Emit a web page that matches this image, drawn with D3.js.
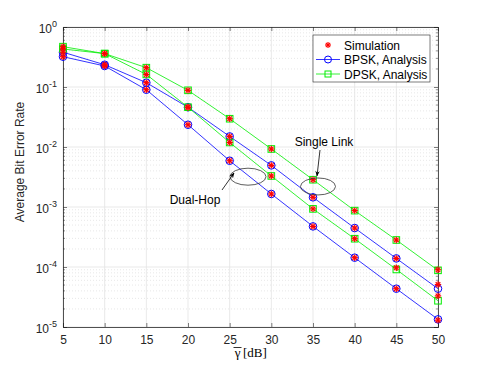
<!DOCTYPE html>
<html>
<head>
<meta charset="utf-8">
<script src="https://cdn.jsdelivr.net/npm/d3@7"></script>
<style>
  body { margin: 0; background: #fff; }
  svg text { font-family: "Liberation Sans", Arial, sans-serif; }
</style>
</head>
<body>
<div id="chart"></div>
<script>
// SNR points (dB)
var snr = [5, 10, 15, 20, 25, 30, 35, 40, 45, 50];

// analysis curves
var bpskSingle = [0.38, 0.235, 0.118, 0.046, 0.0150, 0.00494, 0.00145, 0.000446, 0.000139, 4.35e-5];
var bpskDual   = [0.32, 0.224, 0.090, 0.0235, 0.0059, 0.00165, 0.000475, 0.000143, 4.35e-5, 1.34e-5];
var dpskSingle = [0.47, 0.36, 0.21, 0.088, 0.0296, 0.00927, 0.00285, 0.00087, 0.000282, 8.8e-5];
var dpskDual   = [0.43, 0.36, 0.162, 0.046, 0.0119, 0.00329, 0.00093, 0.000296, 9.1e-5, 2.74e-5];

// simulation points
var simBpskSingle = [0.38, 0.235, 0.118, 0.046, 0.0150, 0.00494, 0.00145, 0.000446, 0.000139, 5.1e-5];
var simBpskDual   = [0.32, 0.224, 0.090, 0.0235, 0.0059, 0.00165, 0.000475, 0.000143, 4.35e-5, 1.3e-5];
var simDpskSingle = [0.47, 0.36, 0.21, 0.088, 0.0296, 0.00927, 0.00285, 0.00087, 0.000282, 9.0e-5];
var simDpskDual   = [0.43, 0.36, 0.162, 0.046, 0.0119, 0.00329, 0.00093, 0.000296, 9.7e-5, 3.3e-5];

var xTicks = [5, 10, 15, 20, 25, 30, 35, 40, 45, 50];
var yExps  = [0, -1, -2, -3, -4, -5];
var legendLabels = ['Simulation', 'BPSK, Analysis', 'DPSK, Analysis'];

var W = 485, H = 367;
var m = { left: 63, top: 27, right: 47, bottom: 40 };
var pw = W - m.left - m.right, ph = H - m.top - m.bottom;

var svg = d3.select('#chart').append('svg')
    .attr('width', W).attr('height', H);

var x = d3.scaleLinear().domain([5, 50]).range([m.left, m.left + pw]);
var y = d3.scaleLog().domain([1e-5, 1]).range([m.top + ph, m.top]);

var g = svg.append('g');

// minor y grid
var minor = [];
for (var e = -5; e < 0; e++) {
    for (var k = 2; k <= 9; k++) minor.push(k * Math.pow(10, e));
}
g.selectAll('line.ymin').data(minor).enter().append('line')
    .attr('x1', m.left).attr('x2', m.left + pw)
    .attr('y1', function (d) { return y(d); }).attr('y2', function (d) { return y(d); })
    .attr('stroke', '#d6d6d6').attr('stroke-width', 0.6).attr('stroke-dasharray', '1,2');

// major grid
g.selectAll('line.ymaj').data(yExps).enter().append('line')
    .attr('x1', m.left).attr('x2', m.left + pw)
    .attr('y1', function (d) { return y(Math.pow(10, d)); }).attr('y2', function (d) { return y(Math.pow(10, d)); })
    .attr('stroke', '#e3e3e3').attr('stroke-width', 0.8);
g.selectAll('line.xmaj').data(xTicks).enter().append('line')
    .attr('x1', function (d) { return x(d); }).attr('x2', function (d) { return x(d); })
    .attr('y1', m.top).attr('y2', m.top + ph)
    .attr('stroke', '#e3e3e3').attr('stroke-width', 0.8);

// axes with inward ticks
var axCol = '#262626';
var axB = d3.axisBottom(x).tickValues(xTicks).tickSize(-4).tickPadding(8);
var axT = d3.axisTop(x).tickValues(xTicks).tickSize(-4).tickFormat('');
var axL = d3.axisLeft(y).tickValues(yExps.map(function (d) { return Math.pow(10, d); })).tickSize(-4).tickFormat('');
var axR = d3.axisRight(y).tickValues(yExps.map(function (d) { return Math.pow(10, d); })).tickSize(-4).tickFormat('');

function styleAxis(sel) {
    sel.select('.domain').attr('stroke', axCol).attr('stroke-width', 0.8);
    sel.selectAll('.tick line').attr('stroke', axCol).attr('stroke-width', 0.6);
    sel.selectAll('.tick text').attr('fill', axCol).style('font-size', '12px')
        .style('font-family', '"Liberation Sans", Arial, sans-serif');
}
svg.append('g').attr('transform', 'translate(0,' + (m.top + ph) + ')').call(axB).call(styleAxis);
svg.append('g').attr('transform', 'translate(0,' + m.top + ')').call(axT).call(styleAxis);
svg.append('g').attr('transform', 'translate(' + m.left + ',0)').call(axL).call(styleAxis);
svg.append('g').attr('transform', 'translate(' + (m.left + pw) + ',0)').call(axR).call(styleAxis);

// minor y ticks
[m.left, m.left + pw].forEach(function (x0, i) {
    var dir = i === 0 ? 1 : -1;
    svg.selectAll(null).data(minor).enter().append('line')
        .attr('x1', x0).attr('x2', x0 + dir * 2)
        .attr('y1', function (d) { return y(d); }).attr('y2', function (d) { return y(d); })
        .attr('stroke', axCol).attr('stroke-width', 0.5);
});

// y tick labels 10^n
var yl = svg.selectAll('text.ylab').data(yExps).enter().append('text')
    .attr('x', m.left - 6).attr('y', function (d) { return y(Math.pow(10, d)) + 6; })
    .attr('text-anchor', 'end').attr('fill', axCol).style('font-size', '12px');
yl.append('tspan').text('10');
yl.append('tspan').attr('dy', -6).style('font-size', '9px').text(function (d) { return d; });

// axis labels
svg.append('text')
    .attr('transform', 'translate(24,' + (m.top + ph / 2 - 15) + ') rotate(-90)')
    .attr('text-anchor', 'middle').attr('fill', axCol).style('font-size', '12px')
    .text('Average Bit Error Rate');

// x label: gamma with bar, then [dB]
var serif = '"Liberation Serif", "DejaVu Serif", serif';
var gx = 237.5, gy = 357;
svg.append('text').attr('x', gx).attr('y', gy).attr('text-anchor', 'middle')
    .attr('fill', '#000').style('font-family', serif).style('font-size', '13px')
    .text('γ');
svg.append('text').attr('x', gx + 5.5).attr('y', gy).attr('text-anchor', 'start')
    .attr('fill', '#000').style('font-family', serif).style('font-size', '13px')
    .text('[dB]');
svg.append('line')
    .attr('x1', gx - 4).attr('x2', gx + 4)
    .attr('y1', gy - 9.5).attr('y2', gy - 9.5).attr('stroke', '#000').attr('stroke-width', 0.8);

// curves
var line = d3.line()
    .x(function (d, i) { return x(snr[i]); })
    .y(function (d) { return y(d); });

var blue = '#0000ff', green = '#00ee00', red = '#ff0000';

function asterisk(sel, cx, cy, s) {
    var gA = sel.append('g').attr('transform', 'translate(' + cx + ',' + cy + ')')
        .attr('stroke', red).attr('stroke-width', 1.2);
    gA.append('line').attr('x1', -s).attr('x2', s).attr('y1', 0).attr('y2', 0);
    gA.append('line').attr('x1', 0).attr('x2', 0).attr('y1', -s).attr('y2', s);
    var d = s * 0.72;
    gA.append('line').attr('x1', -d).attr('x2', d).attr('y1', -d).attr('y2', d);
    gA.append('line').attr('x1', -d).attr('x2', d).attr('y1', d).attr('y2', -d);
}

[[bpskSingle, blue, 'o'], [bpskDual, blue, 'o'], [dpskSingle, green, 's'], [dpskDual, green, 's']]
    .forEach(function (c) {
        svg.append('path').datum(c[0]).attr('d', line)
            .attr('fill', 'none').attr('stroke', c[1]).attr('stroke-width', 0.8);
        if (c[2] === 'o') {
            svg.selectAll(null).data(c[0]).enter().append('circle')
                .attr('cx', function (d, i) { return x(snr[i]); })
                .attr('cy', function (d) { return y(d); })
                .attr('r', 3.8).attr('fill', 'none').attr('stroke', c[1]).attr('stroke-width', 1);
        } else {
            svg.selectAll(null).data(c[0]).enter().append('rect')
                .attr('x', function (d, i) { return x(snr[i]) - 3.3; })
                .attr('y', function (d) { return y(d) - 3.3; })
                .attr('width', 6.6).attr('height', 6.6)
                .attr('fill', 'none').attr('stroke', c[1]).attr('stroke-width', 1);
        }
    });

[simBpskSingle, simBpskDual, simDpskSingle, simDpskDual].forEach(function (s) {
    s.forEach(function (v, i) { asterisk(svg, x(snr[i]), y(v), 3.2); });
});

// annotations
var ann = svg.append('g').attr('stroke', '#333').attr('fill', 'none').attr('stroke-width', 0.8);
ann.append('ellipse').attr('cx', x(27.2)).attr('cy', y(0.0032)).attr('rx', 18).attr('ry', 8.5);
ann.append('ellipse').attr('cx', x(35.6)).attr('cy', y(0.0022)).attr('rx', 17.5).attr('ry', 8.5);

svg.append('defs').append('marker')
    .attr('id', 'arr').attr('viewBox', '0 0 10 10').attr('refX', 9).attr('refY', 5)
    .attr('markerWidth', 7).attr('markerHeight', 7).attr('orient', 'auto')
    .append('path').attr('d', 'M0,1 L10,5 L0,9 L3,5 Z').attr('fill', '#000');

svg.append('line').attr('x1', 222).attr('y1', 190).attr('x2', 234).attr('y2', 173)
    .attr('stroke', '#000').attr('stroke-width', 0.8).attr('marker-end', 'url(#arr)');
svg.append('line').attr('x1', 320).attr('y1', 150).attr('x2', 317).attr('y2', 176)
    .attr('stroke', '#000').attr('stroke-width', 0.8).attr('marker-end', 'url(#arr)');

svg.append('text').attr('x', 195).attr('y', 204).attr('text-anchor', 'middle')
    .attr('fill', '#000').style('font-size', '12px').text('Dual-Hop');
svg.append('text').attr('x', 324).attr('y', 146).attr('text-anchor', 'middle')
    .attr('fill', '#000').style('font-size', '12px').text('Single Link');

// legend
var lg = svg.append('g').attr('transform', 'translate(313,35)');
lg.append('rect').attr('width', 117).attr('height', 47)
    .attr('fill', '#fff').attr('stroke', axCol).attr('stroke-width', 0.6);
legendLabels.forEach(function (t, i) {
    var cy = 10 + i * 14.5;
    if (i === 0) {
        asterisk(lg, 15, cy, 3);
    } else {
        var col = i === 1 ? blue : green;
        lg.append('line').attr('x1', 3).attr('x2', 27).attr('y1', cy).attr('y2', cy)
            .attr('stroke', col).attr('stroke-width', 0.8);
        if (i === 1) {
            lg.append('circle').attr('cx', 15).attr('cy', cy).attr('r', 3.5)
                .attr('fill', 'none').attr('stroke', col).attr('stroke-width', 1);
        } else {
            lg.append('rect').attr('x', 12).attr('y', cy - 3).attr('width', 6).attr('height', 6)
                .attr('fill', 'none').attr('stroke', col).attr('stroke-width', 1);
        }
    }
    lg.append('text').attr('x', 31).attr('y', cy + 4.5).attr('fill', '#000')
        .style('font-size', '12px').text(t);
});
</script>
</body>
</html>
